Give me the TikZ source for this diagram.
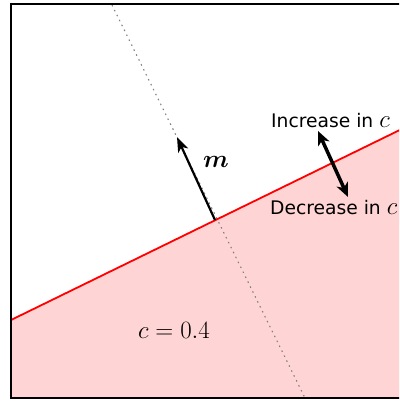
\documentclass[tikz,border=0pt]{standalone}
\usepackage{amsmath,bm}
\usepackage{fontspec}
\newfontfamily\labelfont{DejaVu Sans}
\usetikzlibrary{arrows.meta}
\definecolor{pinkfill}{RGB}{255,212,212}
\tikzset{
  frame/.style={line width=2pt, draw=black},
  boundary/.style={draw=red, line width=1.8pt},
  normalline/.style={draw=gray, line width=1.1pt, dash pattern=on 1.5pt off 4pt},
  vecarrow/.style={-{Stealth[length=15pt,width=11pt,inset=4pt]}, line width=2.2pt},
  dblarrow/.style={{Stealth[length=14pt,width=12pt,inset=4pt]}-{Stealth[length=14pt,width=12pt,inset=4pt]}, line width=3.5pt},
  lbl/.style={font=\labelfont\fontsize{18.7}{21}\selectfont, inner sep=0pt}
}
\begin{document}
\begin{tikzpicture}[x=1pt,y=-1pt]
\useasboundingbox (0,0) rectangle (399,401);
\begin{scope}
\clip (0,0) rectangle (399,401);
\fill[pinkfill] (11,320) -- (410,125) -- (410,398) -- (11,398) -- cycle;
\draw[normalline] (112,5) -- (305,398);
\draw[boundary] (11,320) -- (410,125);
\draw[frame] (410,4) -- (11,4) -- (11,398) -- (410,398);
\node[lbl, anchor=base west] (dec) at (270,214) {Decrease in {\fontsize{24}{26}\selectfont$c$}};
\end{scope}
\coordinate (mbase) at (215,220);
\coordinate (mtip) at (177,137);
\draw[vecarrow] (mbase) -- (mtip);
\node (mlabel) at (216,162) {\fontsize{23}{26}\selectfont$\bm{m}$};
\coordinate (up) at (318,131);
\coordinate (down) at (348,197);
\draw[dblarrow] (up) -- (down);
\node[lbl, anchor=base west] (inc) at (271,128) {Increase in {\fontsize{24}{26}\selectfont$c$}};
\node (cval) at (174,330) {\fontsize{23}{26}\selectfont$c=0.4$};
\end{tikzpicture}
\end{document}
